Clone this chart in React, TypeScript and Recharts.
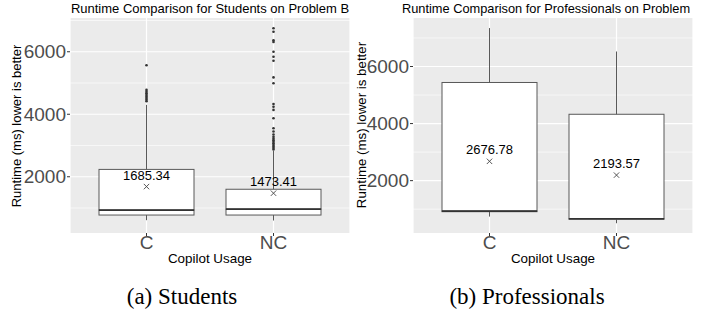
import { ComposedChart, Bar, Scatter, XAxis, YAxis, CartesianGrid } from "recharts"

const categories = ["C", "NC"]
const yTicks = [2000, 4000, 6000]
const minorTicks = [1000, 3000, 5000, 7000]

// (a) Students
const studentLow = [610, 600]
const studentQ1 = [775, 775]
const studentMedian = [935, 965]
const studentQ3 = [2235, 1600]
const studentHigh = [4300, 2830]
const studentMean = [1685.34, 1473.41]
const studentOutliersC = [4420, 4470, 4520, 4570, 4620, 4670, 4720, 4780, 5570]
const studentOutliersNC = [
  2870, 2920, 2970, 3020, 3070, 3120, 3170, 3220, 3280, 3350, 3450, 3550, 3870, 4140, 4240, 4330, 4990, 5180,
  5710, 5840, 6000, 6310, 6370, 6640, 6750,
]

// (b) Professionals
const proLow = [740, 507]
const proQ1 = [912, 646]
const proMedian = [935, 665]
const proQ3 = [5440, 4326]
const proHigh = [7347, 6526]
const proMean = [2676.78, 2193.57]

const FONT = '"Liberation Sans", Arial, sans-serif'
const BOX_STROKE = "#595959"

const buildRows = (low: number[], q1: number[], med: number[], q3: number[], high: number[], mean: number[]) =>
  categories.map((name, i) => ({
    name,
    base: low[i],
    lowerWhisker: q1[i] - low[i],
    lowerBox: med[i] - q1[i],
    upperBox: q3[i] - med[i],
    upperWhisker: high[i] - q3[i],
    mean: mean[i],
  }))

const buildOutliers = (c: number[], nc: number[]) => [
  ...c.map((value) => ({ name: "C", value })),
  ...nc.map((value) => ({ name: "NC", value })),
]

const studentRows = buildRows(studentLow, studentQ1, studentMedian, studentQ3, studentHigh, studentMean)
const proRows = buildRows(proLow, proQ1, proMedian, proQ3, proHigh, proMean)
const studentOutliers = buildOutliers(studentOutliersC, studentOutliersNC)

const WhiskerShape = (props: any) => {
  const { x, y, width, height } = props
  const cx = x + width / 2
  return <line x1={cx} x2={cx} y1={y} y2={y + height} stroke={BOX_STROKE} strokeWidth={1} />
}

const LowerBoxShape = (props: any) => {
  const { x, y, width, height } = props
  return <rect x={x} y={y} width={width} height={Math.max(height, 0)} fill="#fff" stroke={BOX_STROKE} strokeWidth={1} />
}

// upper part of box, median drawn on its bottom edge
const UpperBoxShape = (props: any) => {
  const { x, y, width, height } = props
  return (
    <g>
      <rect x={x} y={y} width={width} height={height} fill="#fff" stroke={BOX_STROKE} strokeWidth={1} />
      <line x1={x} x2={x + width} y1={y + height} y2={y + height} stroke="#333" strokeWidth={1.7} />
    </g>
  )
}

const MeanShape = (props: any) => {
  const { cx, cy, payload } = props
  const s = 2.7
  return (
    <g>
      <path d={`M${cx - s},${cy - s}L${cx + s},${cy + s}M${cx - s},${cy + s}L${cx + s},${cy - s}`} stroke="#444" strokeWidth={0.9} />
      <text x={cx} y={cy - 7} textAnchor="middle" fontSize={13} fontFamily={FONT} fill="#000">
        {payload.mean.toFixed(2)}
      </text>
    </g>
  )
}

const OutlierDot = (props: any) => <circle cx={props.cx} cy={props.cy} r={1.3} fill="#333" />

interface PanelProps {
  rows: ReturnType<typeof buildRows>
  outliers: { name: string; value: number }[]
  domain: [number, number]
}

function BoxPanel({ rows, outliers, domain }: PanelProps) {
  return (
    <ComposedChart width={357} height={270} data={rows} barSize={95} margin={{ top: 18, right: 7, bottom: 7, left: 0 }}>
      <CartesianGrid fill="#EBEBEB" stroke="#fff" strokeWidth={0.6} vertical={false} horizontalValues={minorTicks} />
      <CartesianGrid stroke="#fff" strokeWidth={1.2} horizontalValues={yTicks} />
      <XAxis
        dataKey="name"
        type="category"
        allowDuplicatedCategory={false}
        padding={{ left: 13, right: 13 }}
        height={30}
        axisLine={false}
        tickSize={3}
        tickMargin={0}
        tickLine={{ stroke: "#333" }}
        tick={{ fill: "#4d4d4d", fontSize: 19, fontFamily: FONT }}
      />
      <YAxis
        type="number"
        domain={domain}
        allowDataOverflow
        ticks={yTicks}
        width={70}
        axisLine={false}
        tickSize={3}
        tickMargin={1}
        tickLine={{ stroke: "#333" }}
        tick={{ fill: "#4d4d4d", fontSize: 19, fontFamily: FONT }}
      />
      <Bar dataKey="base" stackId="box" fill="transparent" isAnimationActive={false} />
      <Bar dataKey="lowerWhisker" stackId="box" shape={WhiskerShape} isAnimationActive={false} />
      <Bar dataKey="lowerBox" stackId="box" shape={LowerBoxShape} isAnimationActive={false} />
      <Bar dataKey="upperBox" stackId="box" shape={UpperBoxShape} isAnimationActive={false} />
      <Bar dataKey="upperWhisker" stackId="box" shape={WhiskerShape} isAnimationActive={false} />
      {outliers.length > 0 && (
        <Scatter data={outliers} dataKey="value" shape={OutlierDot} isAnimationActive={false} />
      )}
      <Scatter dataKey="mean" shape={MeanShape} isAnimationActive={false} />
    </ComposedChart>
  )
}

export default function App() {
  return (
    <div style={{ position: "absolute", left: 0, top: 0, width: 715, height: 313, background: "#fff" }}>
      <div style={{ position: "absolute", left: 0, top: 0 }}>
        <BoxPanel rows={studentRows} outliers={studentOutliers} domain={[200, 7080]} />
      </div>
      <div style={{ position: "absolute", left: 343, top: 0 }}>
        <BoxPanel rows={proRows} outliers={[]} domain={[165, 7700]} />
      </div>
      <svg width={715} height={313} style={{ position: "absolute", left: 0, top: 0, pointerEvents: "none" }}>
        <text x={210} y={13.3} textAnchor="middle" fontSize={13} fontFamily={FONT} fill="#000">
          Runtime Comparison for Students on Problem B
        </text>
        <text x={402} y={13.3} fontSize={12.8} fontFamily={FONT} fill="#000">
          Runtime Comparison for Professionals on Problem
        </text>
        <text x={20.5} y={126} transform="rotate(-90 20.5 126)" textAnchor="middle" fontSize={13} fontFamily={FONT} fill="#000">
          Runtime (ms) lower is better
        </text>
        <text x={365.5} y={125} transform="rotate(-90 365.5 125)" textAnchor="middle" fontSize={13.3} fontFamily={FONT} fill="#000">
          Runtime (ms) lower is better
        </text>
        <text x={210} y={263} textAnchor="middle" fontSize={13.4} fontFamily={FONT} fill="#000">
          Copilot Usage
        </text>
        <text x={553} y={263} textAnchor="middle" fontSize={13.4} fontFamily={FONT} fill="#000">
          Copilot Usage
        </text>
        <text x={182} y={304} textAnchor="middle" fontSize={23} fontFamily='"Liberation Serif", "Times New Roman", serif' fill="#000">
          (a) Students
        </text>
        <text x={527} y={304} textAnchor="middle" fontSize={23} fontFamily='"Liberation Serif", "Times New Roman", serif' fill="#000">
          (b) Professionals
        </text>
      </svg>
    </div>
  )
}
